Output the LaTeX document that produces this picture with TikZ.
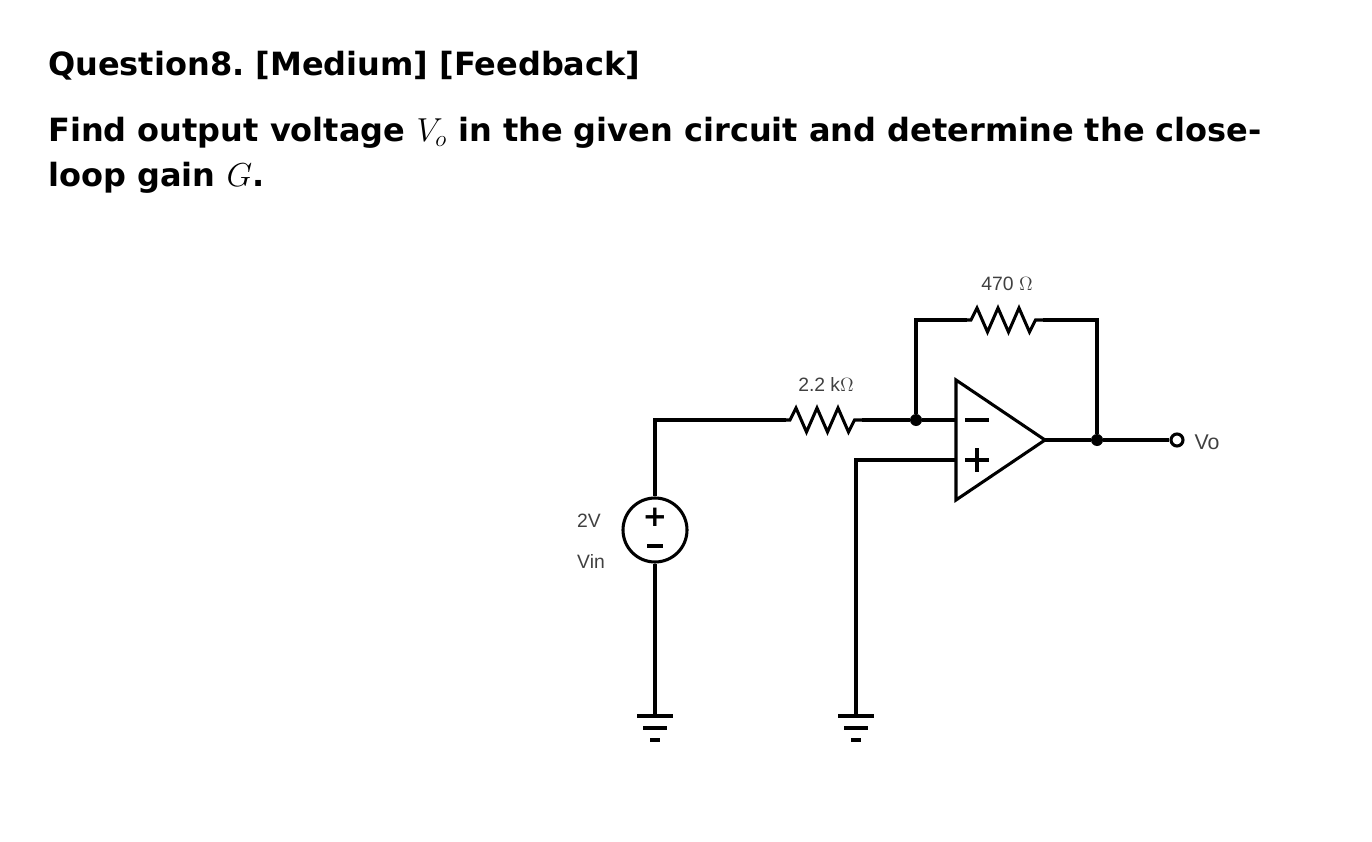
\documentclass[tikz,border=0pt]{standalone}
\usepackage{fontspec}
\setmainfont{DejaVu Sans}
\newfontfamily\lab{Liberation Sans}
\usetikzlibrary{calc}
\frenchspacing
\begin{document}
\begin{tikzpicture}[x=0.75pt,y=-0.75pt,
  w/.style={line width=2.3pt},
  lbl/.style={font=\lab\fontsize{14.5}{16}\selectfont, text=black!75},
  dot/.style={circle,fill=black,inner sep=0pt,minimum size=9pt},
  zz/.style={insert path={-- ++(4,0) -- ++(6,-12) -- ++(10.5,24) -- ++(10.5,-24) -- ++(10.5,24) -- ++(10.5,-24) -- ++(10.5,24) -- ++(6,-12)}}]
\useasboundingbox (0,0) rectangle (1372,842);
\node[anchor=base west,inner sep=0pt,font=\bfseries\fontsize{24}{28}\selectfont] (t1) at (48,76) {Question8. [Medium] [Feedback]};
\node[anchor=base west,inner sep=0pt,font=\bfseries\fontsize{24}{28}\selectfont] (t2) at (48,142) {Find output voltage $V_o$ in the given circuit and determine the close-};
\node[anchor=base west,inner sep=0pt,font=\bfseries\fontsize{24}{28}\selectfont] (t3) at (48,186) {loop gain $G$.};
% nodes
\node[draw,w,circle,minimum size=48pt,inner sep=0pt] (src) at (655,530) {};
\node[font=\bfseries\fontsize{22}{22}\selectfont,inner sep=0pt] at (655,517) {+};
\draw[w] (647,546) -- (663,546);
\coordinate (a) at (655,420);
\coordinate (r1a) at (786,420); \coordinate (r1b) at (862,420);
\node[dot] (n1) at (916,420) {};
\coordinate (f1) at (916,320);
\coordinate (r2a) at (967,320); \coordinate (r2b) at (1043,320);
\coordinate (f2) at (1097,320);
\node[dot] (n2) at (1097,440) {};
\coordinate (om) at (956,420); \coordinate (op) at (956,460);
\coordinate (tip) at (1045,440);
\node[draw,w,circle,fill=white,minimum size=9pt,inner sep=0pt] (vo) at (1177,440) {};
\coordinate (pl) at (856,460);
\coordinate (g1) at (655,716); \coordinate (g2) at (856,716);
% opamp
\draw[w,line join=miter] (956,380) -- (1045,440) -- (956,500) -- cycle;
\draw[w] (965,420) -- (989,420);
\draw[w] (965,460) -- (989,460) (977,448) -- (977,472);
% wires
\draw[w] (src) -- (a) -- (r1a);
\draw[w] (r1a) [zz] -- (r1b);
\draw[w] (r1b) -- (n1) -- (om);
\draw[w] (n1) -- (f1) -- (r2a);
\draw[w] (r2a) [zz] -- (r2b);
\draw[w] (r2b) -- (f2) -- (n2);
\draw[w] (tip) -- (n2) -- (vo);
\draw[w] (op) -- (pl) -- (g2);
\draw[w] (src) -- (g1);
\foreach \g in {g1,g2}{
  \draw[w] ($(\g)+(-18,0)$) -- ($(\g)+(18,0)$);
  \draw[w] ($(\g)+(-12,12)$) -- ($(\g)+(12,12)$);
  \draw[w] ($(\g)+(-5,24)$) -- ($(\g)+(5,24)$);
}
\node[lbl] (l1) at (826,384) {2.2 k$\Omega$};
\node[lbl] (l2) at (1007,284) {470 $\Omega$};
\node[lbl] (l3) at (589,521) {2V};
\node[lbl] (l4) at (591,561) {Vin};
\node[lbl,font=\lab\fontsize{16}{18}\selectfont] (l5) at (1207,442) {Vo};
\end{tikzpicture}
\end{document}
